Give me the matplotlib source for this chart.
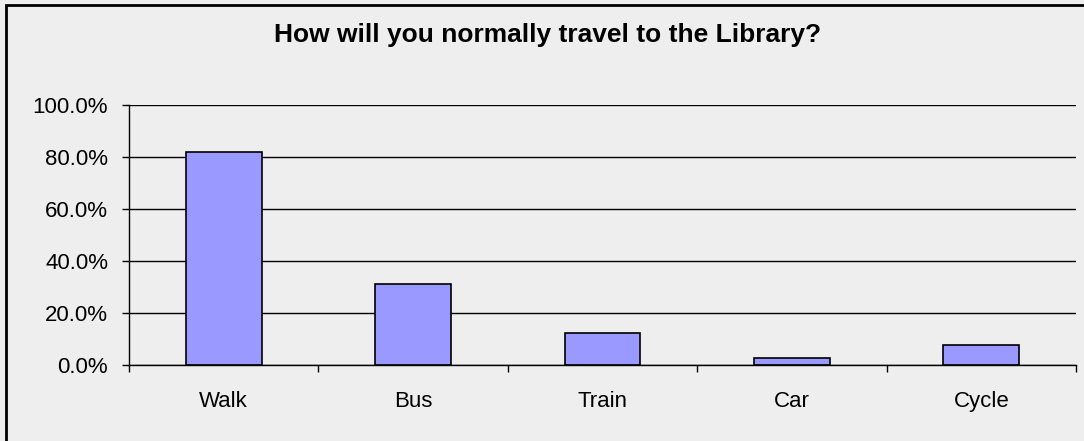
import matplotlib
matplotlib.use("Agg")
import matplotlib.pyplot as plt
from matplotlib.patches import Rectangle
from matplotlib.ticker import FuncFormatter, FixedLocator

# data
categories = ["Walk", "Bus", "Train", "Car", "Cycle"]
values = [81.8, 31.0, 12.3, 2.8, 7.8]
title = "How will you normally travel to the Library?"

bg = "#eeeeee"
bar_color = "#9999ff"

plt.rcParams["font.family"] = ["Liberation Sans", "DejaVu Sans"]

fig = plt.figure(figsize=(10.84, 4.41), dpi=100, facecolor=bg)
ax = fig.add_axes([129/1084, 1 - 365/441, (1076 - 129)/1084, (365 - 105)/441])
ax.set_facecolor(bg)

x = list(range(len(categories)))
ax.bar(x, values, width=0.4, color=bar_color, edgecolor="black", linewidth=1.2, zorder=3)

ax.set_xlim(-0.5, len(categories) - 0.5)
ax.set_ylim(0, 100)

# y axis
ax.set_yticks([0, 20, 40, 60, 80, 100])
ax.yaxis.set_major_formatter(FuncFormatter(lambda v, p: f"{v:.1f}%"))
ax.tick_params(axis="y", direction="out", length=5, width=1.0, pad=10, labelsize=16)
ax.grid(axis="y", color="black", linewidth=1.0, zorder=1)

# x axis: labels at centres, tick marks at boundaries
ax.set_xticks(x)
ax.set_xticklabels(categories)
ax.tick_params(axis="x", which="major", length=0, pad=19, labelsize=16)
ax.xaxis.set_minor_locator(FixedLocator([i - 0.5 for i in range(len(categories) + 1)]))
ax.tick_params(axis="x", which="minor", direction="out", length=5, width=1.0)

for s in ["top", "right"]:
    ax.spines[s].set_visible(False)
for s in ["left", "bottom"]:
    ax.spines[s].set_linewidth(1.0)
    ax.spines[s].set_zorder(4)

fig.text(548/1084, 1 - 35/441, title, ha="center", va="center",
         fontsize=19, fontweight="bold")

# outer chart border (only left and top visible in the image)
fig.add_artist(Rectangle((6/1084, -0.1), 1.2, 1 - 5/441 + 0.1,
                         transform=fig.transFigure, fill=False,
                         edgecolor="black", linewidth=2.0, clip_on=False))

fig.savefig("out.png", dpi=100, facecolor=bg)
